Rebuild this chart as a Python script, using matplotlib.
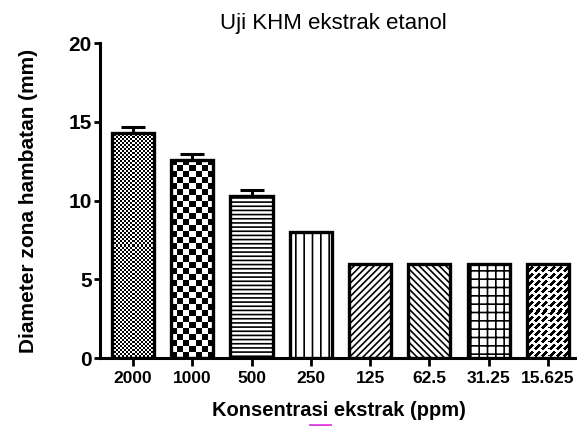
import numpy as np
import matplotlib
matplotlib.use("Agg")
import matplotlib.pyplot as plt
from matplotlib.lines import Line2D

plt.rcParams['font.family'] = ['Liberation Sans', 'DejaVu Sans']
plt.rcParams['hatch.linewidth'] = 1.2

categories = ["2000", "1000", "500", "250", "125", "62.5", "31.25", "15.625"]
values = [14.3, 12.6, 10.3, 8.0, 6.0, 6.0, 6.0, 6.0]
errors = [0.35, 0.35, 0.35, 0.0, 0.0, 0.0, 0.0, 0.0]
title = "Uji KHM ekstrak etanol"
xlabel = "Konsentrasi ekstrak (ppm)"
ylabel = "Diameter zona hambatan (mm)"
yticks = [0, 5, 10, 15, 20]

# pattern per bar: texture name or hatch string
patterns = ["fine_checker", "checker", "----", "||", "/////", "\\\\\\\\\\", "++", "dash"]


def texture(name, rows, cols):
    ii, jj = np.indices((rows, cols))
    if name == "fine_checker":
        return ((ii // 2 + jj // 2) % 2).astype(float)
    if name == "checker":
        return ((ii // 6 + jj // 6) % 2).astype(float)
    # broken diagonal dashes
    u = ii + jj
    v = jj - ii
    k = u // 7
    on = (u % 7 < 4) & (((v + 7 * k) % 14) < 10)
    return np.where(on, 0.0, 1.0)


fig = plt.figure(figsize=(5.77, 4.26), dpi=100)
ax = fig.add_axes([0.1733, 0.1596, 0.8267, 0.7394])

x = np.arange(len(categories))
ax.set_xlim(-0.556, 7.49)
ax.set_ylim(0, 20)

textured = []
for xi, v, p in zip(x, values, patterns):
    if p in ("fine_checker", "checker", "dash"):
        b = ax.bar(xi, v, width=0.71, facecolor='none', edgecolor='black',
                   linewidth=2.4, zorder=3)[0]
        textured.append((b, p))
    else:
        ax.bar(xi, v, width=0.71, facecolor='white', edgecolor='black',
               linewidth=2.4, hatch=p, zorder=3)

fig.canvas.draw()
for b, p in textured:
    bx, by, bw, bh = b.get_x(), b.get_y(), b.get_width(), b.get_height()
    p0 = ax.transData.transform((bx, by))
    p1 = ax.transData.transform((bx + bw, by + bh))
    wpx = int(round(abs(p1[0] - p0[0])))
    hpx = int(round(abs(p1[1] - p0[1])))
    img = texture(p, hpx, wpx)
    im = ax.imshow(img, extent=(bx, bx + bw, by, by + bh), cmap='gray',
                   vmin=0, vmax=1, interpolation='nearest', aspect='auto',
                   zorder=2)
    im.set_clip_path(b)
ax.set_aspect('auto')
ax.set_xlim(-0.556, 7.49)
ax.set_ylim(0, 20)

mask = np.array(errors) > 0
ax.errorbar(x[mask], np.array(values)[mask],
            yerr=[np.zeros(mask.sum()), np.array(errors)[mask]],
            fmt='none', ecolor='black', elinewidth=2.2, capsize=8.3,
            capthick=2.2, zorder=4)

ax.spines['top'].set_visible(False)
ax.spines['right'].set_visible(False)
ax.spines['left'].set_linewidth(2.2)
ax.spines['bottom'].set_linewidth(2.2)

ax.set_xticks(x)
ax.set_xticklabels(categories, fontsize=12.5, fontweight='bold')
ax.set_yticks(yticks)
ax.set_yticklabels([str(t) for t in yticks], fontsize=15, fontweight='bold')
ax.tick_params(axis='y', direction='out', length=4, width=2, pad=2)
ax.tick_params(axis='x', direction='out', length=6, width=2, pad=3)

ax.set_xlabel(xlabel, fontsize=14.5, fontweight='bold', labelpad=11)
ax.set_ylabel(ylabel, fontsize=15, fontweight='bold', labelpad=22)
fig.text(0.578, 0.945, title, fontsize=16, ha='center', va='center')

fig.add_artist(Line2D([310 / 577, 330 / 577], [1.5 / 426, 1.5 / 426],
                      color='#e040e0', linewidth=2))

fig.savefig("out.png", dpi=100)
